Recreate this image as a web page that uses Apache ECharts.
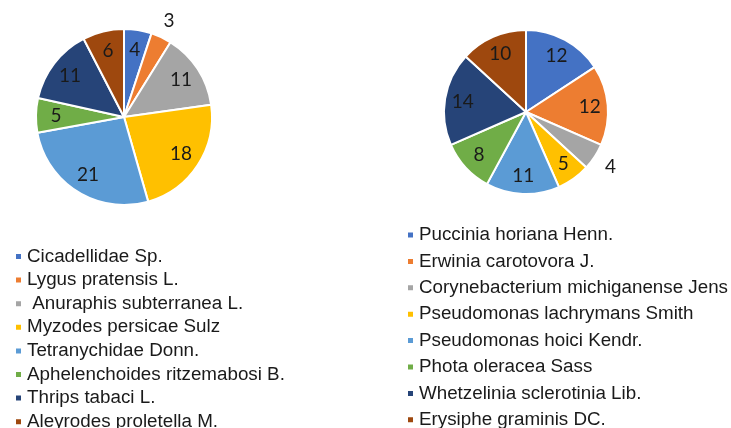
<!DOCTYPE html>
<html>
<head>
<meta charset="UTF-8">
<script src="https://cdn.jsdelivr.net/npm/echarts@6/dist/echarts.min.js"></script>
<style>
html,body{margin:0;padding:0;background:#fff;}
#main{width:731px;height:428px;}
</style>
</head>
<body>
<div id="main"></div>
<script>
// left pie - pests
var pestNames = ['Cicadellidae Sp.', 'Lygus pratensis L.', ' Anuraphis subterranea L.', 'Myzodes persicae Sulz',
  'Tetranychidae Donn.', 'Aphelenchoides ritzemabosi B.', 'Thrips tabaci L.', 'Aleyrodes proletella M.'];
var pestValues = [4, 3, 11, 18, 21, 5, 11, 6];

// right pie - diseases
var diseaseNames = ['Puccinia horiana Henn.', 'Erwinia carotovora J.', 'Corynebacterium michiganense Jens',
  'Pseudomonas lachrymans Smith', 'Pseudomonas hoici Kendr.', 'Phota oleracea Sass',
  'Whetzelinia sclerotinia Lib.', 'Erysiphe graminis DC.'];
var diseaseValues = [12, 12, 4, 5, 11, 8, 14, 10];

var colors = ['#4472C4', '#ED7D31', '#A5A5A5', '#FFC000', '#5B9BD5', '#70AD47', '#264478', '#9E480E'];

var labelFont = { fontFamily: 'Lato', fontSize: 19, color: '#1a1a1a' };

// transparent ring; its "inside" labels sit halfway between r0 and r1
function labelRing(names, values, center, r0, r1, showFn) {
  return {
    type: 'pie',
    center: center,
    radius: [r0, r1],
    silent: true,
    startAngle: 90,
    avoidLabelOverlap: false,
    itemStyle: { color: 'transparent', borderWidth: 0 },
    labelLine: { show: false },
    data: names.map(function (n, i) {
      return {
        name: n, value: values[i],
        itemStyle: { color: 'transparent' },
        label: Object.assign({ show: showFn(i), position: 'inside', formatter: '{c}' }, labelFont)
      };
    })
  };
}

function pieSeries(names, values, outsideIdx, center, r, r0, rOut) {
  return [{
    type: 'pie',
    center: center,
    radius: [0, r],
    silent: true,
    startAngle: 90,
    itemStyle: { borderColor: '#fff', borderWidth: 2 },
    label: { show: false },
    labelLine: { show: false },
    data: names.map(function (n, i) {
      return { name: n, value: values[i], itemStyle: { color: colors[i] } };
    })
  },
  labelRing(names, values, center, r0, r, function (i) { return i !== outsideIdx; }),
  labelRing(names, values, center, r, rOut, function (i) { return i === outsideIdx; })];
}

var legendText = { fontFamily: 'Liberation Sans', fontSize: 18.8, color: '#1a1a1a' };

var chart = echarts.init(document.getElementById('main'));
chart.setOption({
  animation: false,
  legend: [{
    orient: 'vertical',
    left: 14,
    top: 247,
    height: 220,
    padding: 0,
    icon: 'rect',
    itemWidth: 7,
    itemHeight: 7,
    itemGap: 4.6,
    selectedMode: false,
    textStyle: legendText,
    data: pestNames
  }, {
    orient: 'vertical',
    left: 406,
    top: 225.5,
    height: 240,
    padding: 0,
    icon: 'rect',
    itemWidth: 7,
    itemHeight: 7,
    itemGap: 7.4,
    selectedMode: false,
    textStyle: legendText,
    data: diseaseNames
  }],
  series: pieSeries(pestNames, pestValues, 1, [124, 117], 88, 42, 118)
    .concat(pieSeries(diseaseNames, diseaseValues, 2, [526, 112], 82, 40, 114))
});
</script>
</body>
</html>
